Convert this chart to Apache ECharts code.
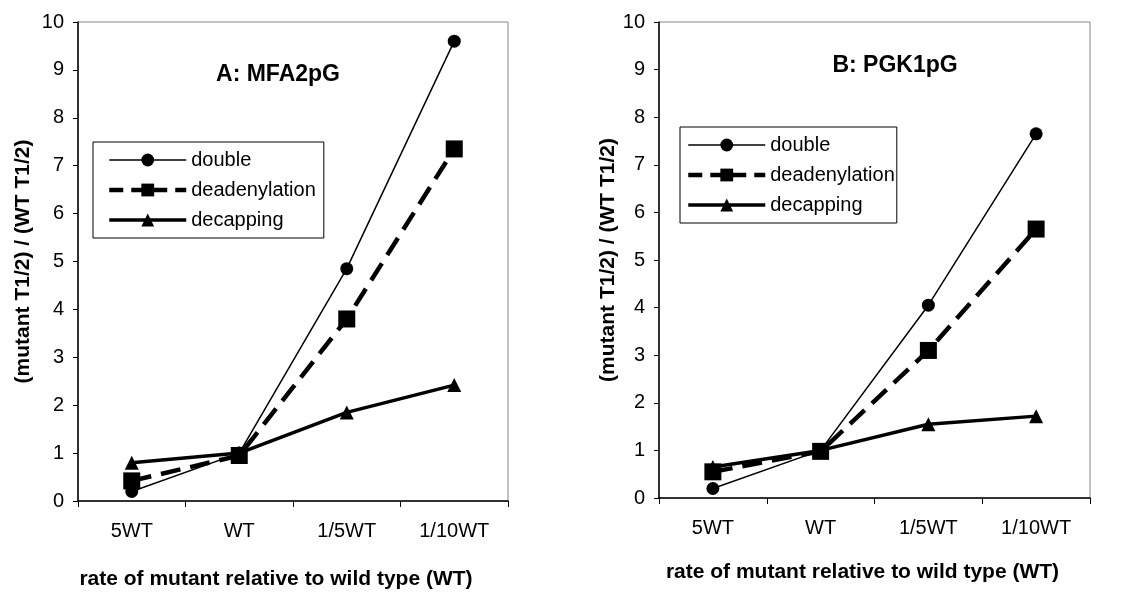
<!DOCTYPE html>
<html>
<head>
<meta charset="utf-8">
<script src="https://cdn.jsdelivr.net/npm/echarts@6/dist/echarts.min.js"></script>
<style>
  html, body { margin: 0; padding: 0; background: #fff; }
  #chart { width: 1122px; height: 593px; }
</style>
</head>
<body>
<div id="chart"></div>
<script>
// categories + values
const categories = ['5WT', 'WT', '1/5WT', '1/10WT']
const seriesNames = ['double', 'deadenylation', 'decapping']

// panel A: MFA2pG
const aDouble = [0.2, 1.0, 4.85, 9.6]
const aDeadenylation = [0.42, 0.95, 3.8, 7.35]
const aDecapping = [0.8, 1.0, 1.85, 2.42]

// panel B: PGK1pG
const bDouble = [0.2, 1.0, 4.05, 7.65]
const bDeadenylation = [0.55, 0.98, 3.1, 5.65]
const bDecapping = [0.65, 1.0, 1.55, 1.72]

const yTicks = [0, 1, 2, 3, 4, 5, 6, 7, 8, 9, 10]

let myChart = echarts.init(document.getElementById('chart'))

const font = 'Liberation Sans, Arial, sans-serif'

// line look per series: double / deadenylation / decapping
const looks = [
  { symbol: 'circle', symbolSize: 13, width: 1.5, type: 'solid' },
  { symbol: 'rect', symbolSize: 17, width: 4.5, type: [20, 10] },
  { symbol: 'triangle', symbolSize: 14, width: 3.5, type: 'solid' }
]

function makeX(gridIndex, nameGap, shift) {
  return {
    type: 'category',
    gridIndex: gridIndex,
    data: categories,
    boundaryGap: true,
    name: 'rate of mutant relative to wild type (WT)',
    nameLocation: 'middle',
    nameGap: nameGap,
    nameTextStyle: { color: '#000', fontSize: 21, fontWeight: 'bold', fontFamily: font,
      padding: [0, shift * 2, 0, 0] },
    axisLine: { lineStyle: { color: '#000', width: 1.5 } },
    axisTick: { show: true, length: 6, lineStyle: { color: '#000' } },
    axisLabel: { color: '#000', fontSize: 20, fontFamily: font, margin: 20 }
  }
}

function makeY(gridIndex, nameGap) {
  return {
    type: 'value',
    gridIndex: gridIndex,
    min: yTicks[0],
    max: yTicks[yTicks.length - 1],
    interval: 1,
    name: '(mutant T1/2) / (WT T1/2)',
    nameLocation: 'middle',
    nameGap: nameGap,
    nameRotate: 90,
    nameTextStyle: { color: '#000', fontSize: 21, fontWeight: 'bold', fontFamily: font },
    axisLine: { show: true, lineStyle: { color: '#000', width: 1.5 } },
    axisTick: { show: true, length: 5, lineStyle: { color: '#000' } },
    axisLabel: { color: '#000', fontSize: 20, fontFamily: font, margin: 14 },
    splitLine: { show: false }
  }
}

function makeSeries(idx, values) {
  let out = []
  for (let i = 0; i < seriesNames.length; i++) {
    out.push({
      name: seriesNames[i],
      type: 'line',
      xAxisIndex: idx,
      yAxisIndex: idx,
      data: values[i],
      color: '#000',
      symbol: looks[i].symbol,
      symbolSize: looks[i].symbolSize,
      lineStyle: { width: looks[i].width, type: looks[i].type },
      itemStyle: { color: '#000' },
      z: 3 - i
    })
  }
  return out
}

function makeLegend(left, top, pad) {
  let items = []
  for (let i = 0; i < seriesNames.length; i++) {
    items.push({
      name: seriesNames[i],
      lineStyle: { width: looks[i].width, type: i === 1 ? [14, 8] : 'solid' }
    })
  }
  return {
    orient: 'vertical',
    left: left,
    top: top,
    data: items,
    itemWidth: 77,
    itemHeight: 16,
    itemGap: 10,
    padding: pad,
    borderColor: '#000',
    borderWidth: 1,
    textStyle: { color: '#000', fontSize: 20, fontFamily: font },
    selectedMode: false
  }
}

let option = {
  backgroundColor: '#fff',
  animation: false,
  title: [
    { text: 'A: MFA2pG', left: 273, top: 58, textAlign: 'center',
      textStyle: { fontSize: 23, fontWeight: 'bold', color: '#000', fontFamily: font } },
    { text: 'B: PGK1pG', left: 890, top: 49, textAlign: 'center',
      textStyle: { fontSize: 23, fontWeight: 'bold', color: '#000', fontFamily: font } }
  ],
  legend: [
    makeLegend(93, 142, [8, 8, 8, 14]),
    makeLegend(680, 127, [8, 2, 8, 6])
  ],
  grid: [
    { left: 78, top: 22, width: 430, height: 479, show: true, borderColor: '#888', borderWidth: 1,
      outerBoundsMode: 'none' },
    { left: 659, top: 22, width: 431, height: 476, show: true, borderColor: '#888', borderWidth: 1,
      outerBoundsMode: 'none' }
  ],
  xAxis: [makeX(0, 68, 17), makeX(1, 64, 12)],
  yAxis: [makeY(0, 44), makeY(1, 38)],
  series: makeSeries(0, [aDouble, aDeadenylation, aDecapping])
    .concat(makeSeries(1, [bDouble, bDeadenylation, bDecapping]))
}

myChart.setOption(option)
window.addEventListener('resize', function () {
  myChart.resize()
})
</script>
</body>
</html>
